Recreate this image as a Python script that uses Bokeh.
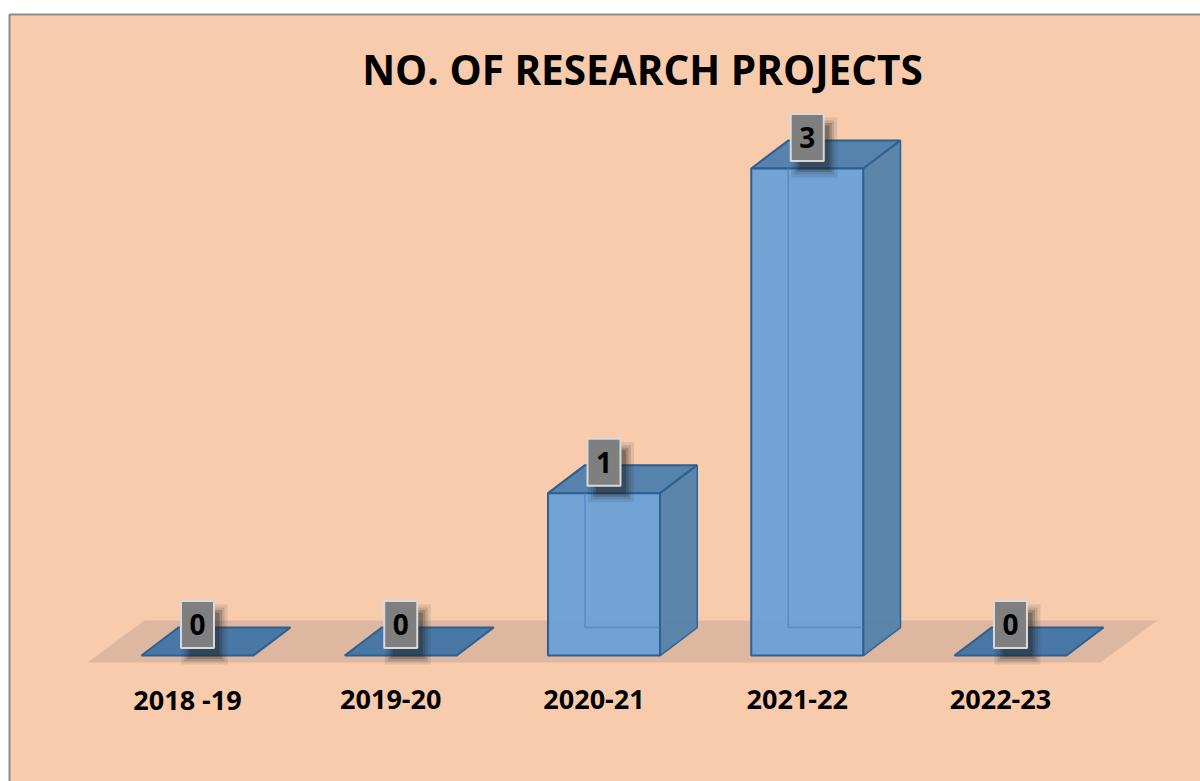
from bokeh.plotting import figure
from bokeh.models import Range1d
from bokeh.core.properties import value
from bokeh.embed import file_html
from bokeh.resources import INLINE

# ---- data ----
title_text = "NO. OF RESEARCH PROJECTS"
categories = ["2018 -19", "2019-20", "2020-21", "2021-22", "2022-23"]
values = [0, 0, 1, 3, 0]

# ---- geometry (data units: x = category index, y = value) ----
PX_X = 203.25          # pixels per category step
PX_Y = 162.33          # pixels per unit of value
HALF_W = 56 / PX_X     # half bar width
DX = 37 / PX_X         # depth offset x
DY = 28 / PX_Y         # depth offset y

W, H = 1200, 781
x0 = (0 - 197) / PX_X
x1 = x0 + W / PX_X
ytop = (655 - 0) / PX_Y
ybot = ytop - H / PX_Y

p = figure(width=W, height=H, output_backend="svg", toolbar_location=None,
           x_range=Range1d(x0, x1), y_range=Range1d(ybot, ytop),
           x_axis_location=None, y_axis_location=None, min_border=0,
           border_fill_color="white", background_fill_color="white",
           outline_line_color=None)
p.grid.visible = False

# chart area background with border
p.quad(left=x0 + 9 / PX_X, right=x1 + 20 / PX_X, top=ytop - 14 / PX_Y, bottom=ybot - 20 / PX_Y,
       fill_color="#F8CBAD", line_color="#8C8C8C", line_width=2)

# floor
fl_l, fl_r = -110 / PX_X, 903 / PX_X
fl_f, fl_b = -7 / PX_Y, 35 / PX_Y
fl_dx = 57 / PX_X
p.patch([fl_l, fl_r, fl_r + fl_dx, fl_l + fl_dx], [fl_f, fl_f, fl_b, fl_b],
        fill_color="#C9A898", fill_alpha=0.55, line_color=None)

EDGE = "#2E5F8E"
for i, v in enumerate(values):
    xl, xr = i - HALF_W, i + HALF_W
    if v == 0:
        p.patch([xl, xr, xr + DX, xl + DX], [0, 0, DY, DY],
                fill_color="#4A78A6", line_color=EDGE, line_width=2)
        continue
    # hidden back edges
    p.multi_line([[xl + DX, xl + DX], [xl + DX, xr + DX], [xl + DX, xl]],
                 [[DY, v + DY], [DY, DY], [DY, 0]],
                 line_color=EDGE, line_alpha=0.35, line_width=2)
    # right side face
    p.patch([xr, xr + DX, xr + DX, xr], [0, DY, v + DY, v],
            fill_color="#55809F", fill_alpha=0.95, line_color=EDGE, line_width=2)
    p.patch([xr, xr + DX, xr + DX, xr], [0, DY, v + DY, v],
            fill_color="#5A85B2", fill_alpha=0.6, line_color=None)
    # top face
    p.patch([xl, xr, xr + DX, xl + DX], [v, v, v + DY, v + DY],
            fill_color="#5682AE", line_color=EDGE, line_width=2)
    # front face
    p.quad(left=xl, right=xr, bottom=0, top=v,
           fill_color="#6CA1D6", fill_alpha=0.97, line_color=EDGE, line_width=2)
    # faint see-through back edges on front face
    p.multi_line([[xl + DX, xl + DX], [xl + DX, xr]],
                 [[DY, v], [DY, DY]],
                 line_color="#4E86BE", line_alpha=0.7, line_width=1.5)

# value labels (gray boxes with shadow)
lx = [i for i in range(len(values))]
ly = [v + DY + 3 / PX_Y for v in values]
for a, sz in [(0.10, 16), (0.14, 10), (0.2, 5), (0.28, 0)]:
    p.rect(x=[x + 7 / PX_X for x in lx], y=[y - 10 / PX_Y for y in ly],
           width=30 + sz, height=44 + sz, width_units="screen", height_units="screen",
           fill_color="#202020", fill_alpha=a, line_color=None)
p.rect(x=lx, y=ly, width=33, height=47, width_units="screen", height_units="screen",
       fill_color="#7F7F7F", line_color="#D9D9D9", line_width=2)
p.text(x=lx, y=ly, text=[str(v) for v in values], text_font=value("Open Sans"),
       text_font_style="bold", text_font_size="28px", text_align="center",
       text_baseline="middle", text_color="black")

# category labels
p.text(x=[i - 10 / PX_X for i in range(len(categories))],
       y=[-(699 - 655) / PX_Y] * len(categories), text=categories,
       text_font=value("Open Sans"), text_font_style="bold", text_font_size="27px",
       text_align="center", text_baseline="middle", text_color="black")

# title
p.text(x=[(642 - 197) / PX_X], y=[(655 - 69) / PX_Y], text=[title_text],
       text_font=value("Open Sans"), text_font_style="bold", text_font_size="40.5px",
       text_align="center", text_baseline="middle", text_color="black")

open("out.html", "w").write(file_html(p, INLINE))
